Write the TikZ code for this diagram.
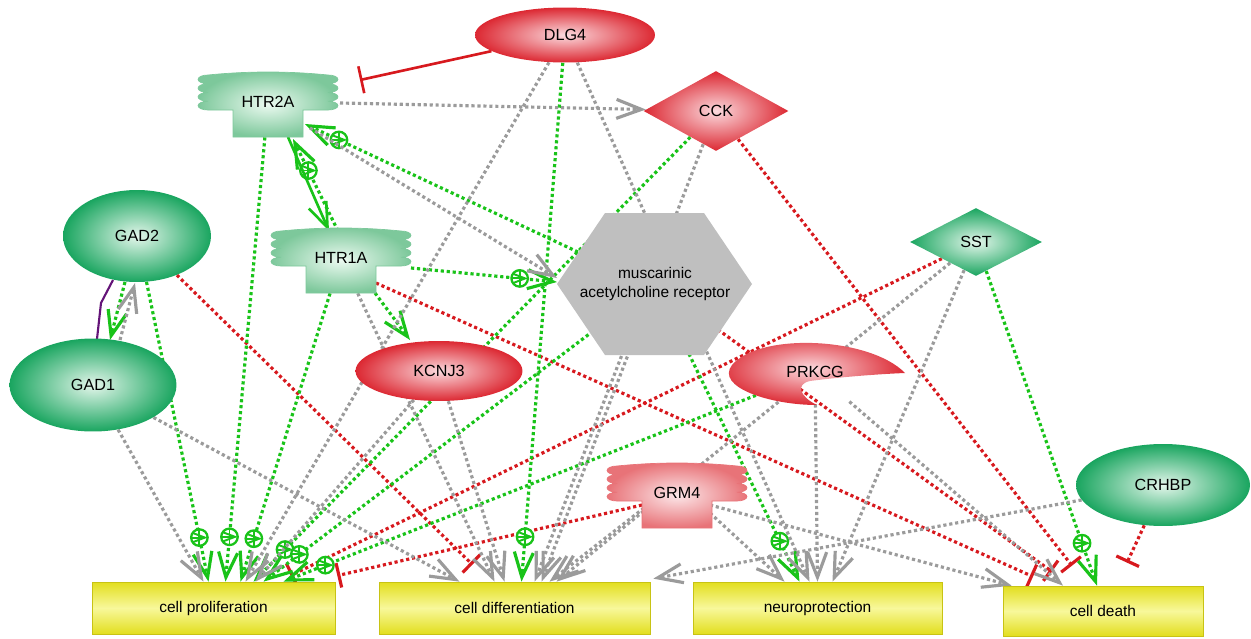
\documentclass[tikz,border=0pt]{standalone}
\usepackage{fontspec}
\setmainfont{Liberation Sans}
\usepackage{tikz}
\usetikzlibrary{calc,shapes.geometric,arrows.meta,decorations.markings}
\pgfdeclarelayer{edges}
\pgfsetlayers{edges,main}

\definecolor{lnkgray}{RGB}{155,155,155}
\definecolor{lnkgreen}{RGB}{25,195,25}
\definecolor{lnkred}{RGB}{215,25,30}
\definecolor{lnkpurple}{RGB}{100,20,120}
\definecolor{protgreen}{RGB}{25,165,95}
\definecolor{protgreenin}{RGB}{228,246,235}
\definecolor{protred}{RGB}{220,40,50}
\definecolor{protredin}{RGB}{251,218,222}
\definecolor{rcpgreen}{RGB}{125,200,155}
\definecolor{rcpgreenin}{RGB}{236,250,241}
\definecolor{rcpred}{RGB}{232,115,120}
\definecolor{rcpredin}{RGB}{252,232,234}
\definecolor{hexgray}{RGB}{191,191,191}
\definecolor{boxyel}{RGB}{226,222,30}
\definecolor{boxpale}{RGB}{248,248,155}
\definecolor{boxedge}{RGB}{200,195,20}

\tikzset{
	% ---- default
	every node/.style={font=\fontsize{8.8}{10.5}\selectfont, inner sep=0pt},
	% ---- nodes
	prot/.style={ellipse, font=\fontsize{9.2}{11}\selectfont},
	protgr/.style={prot, inner color=protgreenin, outer color=protgreen},
	protrd/.style={prot, inner color=protredin, outer color=protred},
	rcpnode/.style={rectangle, minimum width=2.8cm, minimum height=1.4cm,
		font=\fontsize{9.2}{11}\selectfont},
	smallmol/.style={diamond, font=\fontsize{9.2}{11}\selectfont},
	complex/.style={rectangle, minimum width=3.9cm, minimum height=2.84cm, align=center},
	process/.style={rectangle, draw=boxedge, line width=0.4pt, top color=boxyel,
		bottom color=boxyel, middle color=boxpale, minimum height=1.04cm},
	plussign/.style={circle, draw=lnkgreen, fill=white, solid, line width=1.3pt,
		minimum size=0.33cm, path picture={\draw[lnkgreen, line width=1.1pt]
		(path picture bounding box.north) -- (path picture bounding box.south)
		(path picture bounding box.west) -- (path picture bounding box.east);}},
	% ---- links
	link/.style={line width=1.8pt, dash pattern=on 1.8pt off 1.6pt},
	stim/.style={link, lnkgray, -{Straight Barb[length=5mm, width=3.8mm]}},
	act/.style={link, lnkgreen, -{Straight Barb[length=5mm, width=3.8mm]},
		postaction={decorate}, decoration={markings,
		mark=at position -#1 with {\node[plussign] {};}}},
	act/.default=0.9cm,
	actshort/.style={link, lnkgreen, -{Straight Barb[length=5mm, width=3.8mm]}},
	actsolid/.style={line width=1.5pt, lnkgreen, -{Straight Barb[length=5mm, width=3.8mm]}},
	inh/.style={link, lnkred, -{Bar[width=5mm, line width=1.8pt]}},
	inhsolid/.style={line width=1.5pt, lnkred, -{Bar[width=5.5mm]}},
	assoc/.style={line width=1.2pt, lnkpurple},
}

% receptor outline: label position, outer colour, inner colour
\newcommand{\rcpbody}[3]{%
	\shade[draw=#2, inner color=#3, outer color=#2, line width=0.4pt, shift={(#1)}]
		(-60,-27) .. controls (-20,-31) and (20,-31) .. (60,-27)
		\foreach \k in {1,...,4}{arc[start angle=-90, end angle=90, x radius=10, y radius=4.375]}
		-- (35,8) -- (35,35) -- (-35,35) -- (-35,8) -- (-60,8)
		\foreach \k in {1,...,4}{arc[start angle=90, end angle=270, x radius=10, y radius=4.375]}
		-- cycle;
}

\begin{document}
\begin{tikzpicture}[x=0.02cm, y=-0.02cm]

\useasboundingbox (0,0) rectangle (1251,639);

% shapes drawn by hand %{{{2

	\rcpbody{268,102}{rcpgreen}{rcpgreenin}
	\rcpbody{341,258}{rcpgreen}{rcpgreenin}
	\rcpbody{677,493}{rcpred}{rcpredin}

	\shade[inner color=protredin, outer color=protred, shift={(815,372)}]
		(90,1) .. controls (55,-35) and (-55,-40) .. (-83,-7)
		.. controls (-100,15) and (-45,33) .. (2,33)
		.. controls (-15,25) and (-20,12) .. (-5,9)
		.. controls (25,5) and (65,2) .. (90,1) -- cycle;

	\fill[hexgray] (605,213) -- (704,213) -- (752,284) -- (704,355)
		-- (605,355) -- (557,284) -- cycle;

% nodes %{{{2

	\node[protrd, minimum width=3.6cm, minimum height=1.1cm] (dlg4) at (565,35) {DLG4};
	\node[rcpnode] (htr2a) at (268,102) {HTR2A};
	\node[smallmol, inner color=protredin, outer color=protred,
		minimum width=2.9cm, minimum height=1.6cm] (cck) at (716,111) {CCK};
	\node[protgr, minimum width=2.96cm, minimum height=1.84cm] (gad2) at (137,236) {GAD2};
	\node[rcpnode] (htr1a) at (341,258) {HTR1A};
	\node[complex] (musc) at (655,284) {muscarinic\\acetylcholine receptor};
	\node[smallmol, inner color=protgreenin, outer color=protgreen,
		minimum width=2.64cm, minimum height=1.36cm] (sst) at (976,242) {SST};
	\node[protgr, minimum width=3.34cm, minimum height=1.86cm] (gad1) at (93,385) {GAD1};
	\node[protrd, minimum width=3.34cm, minimum height=1.2cm] (kcnj3) at (439,371) {KCNJ3};
	\node[prot, minimum width=3.4cm, minimum height=1.28cm] (prkcg) at (815,372) {PRKCG};
	\node[rcpnode] (grm4) at (677,493) {GRM4};
	\node[protgr, minimum width=3.48cm, minimum height=1.64cm] (crhbp) at (1163,485) {CRHBP};

	\node[process, minimum width=4.86cm] (prolif) at (213.5,608) {cell proliferation};
	\node[process, minimum width=5.42cm] (diff) at (514.5,608) {cell differentiation};
	\node[process, minimum width=4.98cm] (neuro) at (817.5,608) {neuroprotection};
	\node[process, minimum width=4.0cm, minimum height=1.0cm] (death) at (1103,611) {cell death};

% links %{{{2

\begin{pgfonlayer}{edges}

	% inhibition
	\draw[inhsolid] (dlg4) -- ($(htr2a)+(92,-22)$);
	\draw[inh] (gad2) -- ($(diff.north)+(-42,-17)$);
	\draw[inh] (sst) -- ($(prolif.north)+(77,-6)$);
	\draw[inh] ($(grm4)+(-35,12)$) -- ($(prolif.north east)+(2,-6)$);
	\draw[inh] ($(htr1a)+(35,25)$) -- ($(death.north)+(-70,-9)$);
	\draw[inh] (musc.center) -- ($(death.north)+(-51,-14)$);
	\draw[inh] (cck) -- ($(death.north)+(-31,-20)$);
	\draw[inh] (crhbp) -- ($(death.north)+(24,-23)$);

	% activation
	\draw[act] (gad2) -- ($(prolif.north)+(-5,0)$);
	\draw[act] (htr2a) -- ($(prolif.north)+(12,0)$);
	\draw[act] (htr1a) -- ($(prolif.north)+(27,0)$);
	\draw[act] (cck) -- ($(prolif.north)+(40,0)$);
	\draw[act] (musc.center) -- ($(prolif.north)+(50,0)$);
	\draw[act] (prkcg) -- ($(prolif.north)+(70,0)$);
	\draw[act] (dlg4) -- ($(diff.north)+(7,0)$);
	\draw[act] (musc.center) -- ($(neuro.north)+(-18,0)$);
	\draw[act] (sst) -- ($(death.north)+(-6,0)$);
	\draw[act=0.75cm] ($(musc)+(-77,-32)$) -- ($(htr2a)+(37,22)$);
	\draw[act=0.75cm] ($(htr1a)+(70,10)$) -- ($(musc)+(-98,-2)$);
	\draw[act=0.7cm] ($(htr1a)+(-3,-27)$) -- ($(htr2a)+(25,37)$);
	\draw[actsolid] ($(htr2a)+(20,35)$) -- ($(htr1a)+(-12,-27)$);
	\draw[actshort] ($(htr1a)+(34,35)$) -- ($(kcnj3)+(-29,-31)$);
	\draw[actshort] ($(gad2)+(-12,46)$) -- ($(gad1)+(17,-45)$);

	% association
	\draw[assoc] ($(gad2)+(-24,44)$) -- ($(gad1)+(8,-82)$) -- ($(gad1)+(4,-46)$);

	% other links
	\draw[stim] ($(htr2a)+(72,1)$) -- (cck);
	\draw[stim] ($(htr2a)+(42,26)$) -- ($(musc)+(-98,-6)$);
	\draw[stim] ($(gad1)+(27,-45)$) -- ($(gad2)+(-2,47)$);
	\draw[stim] (dlg4) -- ($(prolif.north)+(32,0)$);
	\draw[stim] (dlg4) -- ($(neuro.north)+(-8,0)$);
	\draw[stim] (cck) -- ($(diff.north)+(20,0)$);
	\draw[stim] (gad1) -- ($(prolif.north)+(-10,0)$);
	\draw[stim] (gad1) -- ($(diff.north)+(-55,0)$);
	\draw[stim] (htr1a) -- ($(diff.north)+(-20,0)$);
	\draw[stim] (kcnj3) -- ($(prolif.north)+(42,0)$);
	\draw[stim] (kcnj3) -- ($(diff.north)+(-10,0)$);
	\draw[stim] (musc.center) -- ($(diff.north)+(27,0)$);
	\draw[stim] (sst) -- ($(diff.north)+(42,0)$);
	\draw[stim] ($(grm4)+(-33,15)$) -- ($(diff.north)+(35,0)$);
	\draw[stim] (crhbp) -- ($(diff.north east)+(3,-3)$);
	\draw[stim] ($(grm4)+(33,20)$) -- ($(neuro.north)+(-33,0)$);
	\draw[stim] (prkcg) -- (neuro.north);
	\draw[stim] (sst) -- ($(neuro.north)+(15,0)$);
	\draw[stim] (prkcg) -- ($(death.north)+(-40,0)$);
	\draw[stim] ($(grm4)+(33,12)$) -- ($(death.north west)+(9,0)$);

\end{pgfonlayer}

% closing %{{{2

\end{tikzpicture}
\end{document}
